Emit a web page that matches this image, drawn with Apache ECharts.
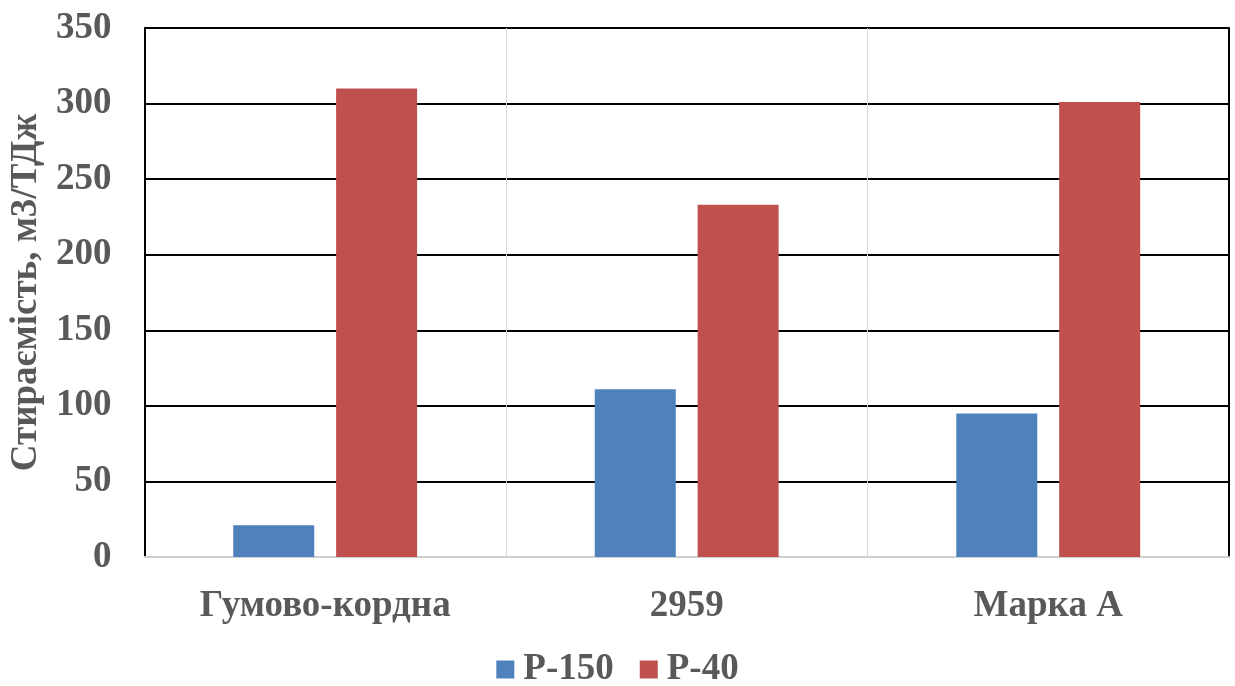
<!DOCTYPE html>
<html><head><meta charset="utf-8">
<script src="https://cdn.jsdelivr.net/npm/echarts@6/dist/echarts.min.js"></script>
<style>html,body{margin:0;padding:0;background:#fff}#c{width:1235px;height:686px}</style>
</head><body><div id="c"></div>
<script>
const categories = ['Гумово-кордна', '2959', 'Марка А'];
const seriesNames = ['Р-150', 'Р-40'];
const p150 = [21, 111, 95];
const p40 = [310, 233, 301];
const yTicks = {min: 0, max: 350, interval: 50};
const yName = 'Стираємість, м3/ТДж';

const font = '"Liberation Serif", "Times New Roman", serif';
const chart = echarts.init(document.getElementById('c'));
chart.setOption({
  animation: false,
  backgroundColor: '#fff',
  grid: {left: 143, right: 6, top: 28, bottom: 129},
  legend: {
    top: 651, left: 'center', itemWidth: 18, itemHeight: 18, itemGap: 26,
    padding: 0,
    icon: 'rect',
    textStyle: {fontFamily: font, fontWeight: 'bold', fontSize: 37, color: '#595959', padding: [0, 0, 0, 4]},
    data: seriesNames
  },
  xAxis: {
    type: 'category', data: categories,
    axisLine: {lineStyle: {color: '#d0d0d0', width: 2}},
    axisTick: {show: false},
    splitLine: {show: true, lineStyle: {color: '#d9d9d9', width: 1}},
    axisLabel: {fontFamily: font, fontWeight: 'bold', fontSize: 37, color: '#595959', margin: 31}
  },
  yAxis: [{
    type: 'value', min: yTicks.min, max: yTicks.max, interval: yTicks.interval,
    name: yName, nameLocation: 'middle', nameGap: 90, nameRotate: 90,
    nameTextStyle: {fontFamily: font, fontWeight: 'bold', fontSize: 37, color: '#595959'},
    axisLine: {show: true, lineStyle: {color: '#000', width: 2}},
    axisTick: {show: false},
    splitLine: {lineStyle: {color: '#000', width: 2}},
    axisLabel: {fontFamily: font, fontWeight: 'bold', fontSize: 37, color: '#595959', margin: 33}
  }, {
    type: 'value', position: 'right', min: yTicks.min, max: yTicks.max, interval: yTicks.interval,
    axisLine: {show: true, lineStyle: {color: '#000', width: 2}},
    axisTick: {show: false}, axisLabel: {show: false}, splitLine: {show: false}
  }],
  series: [
    {name: seriesNames[0], type: 'bar', data: p150, barWidth: 81, barGap: '27%',
     itemStyle: {color: '#4F81BD'}},
    {name: seriesNames[1], type: 'bar', data: p40, barWidth: 81, barGap: '27%',
     itemStyle: {color: '#C0504D'}}
  ]
});
</script></body></html>
